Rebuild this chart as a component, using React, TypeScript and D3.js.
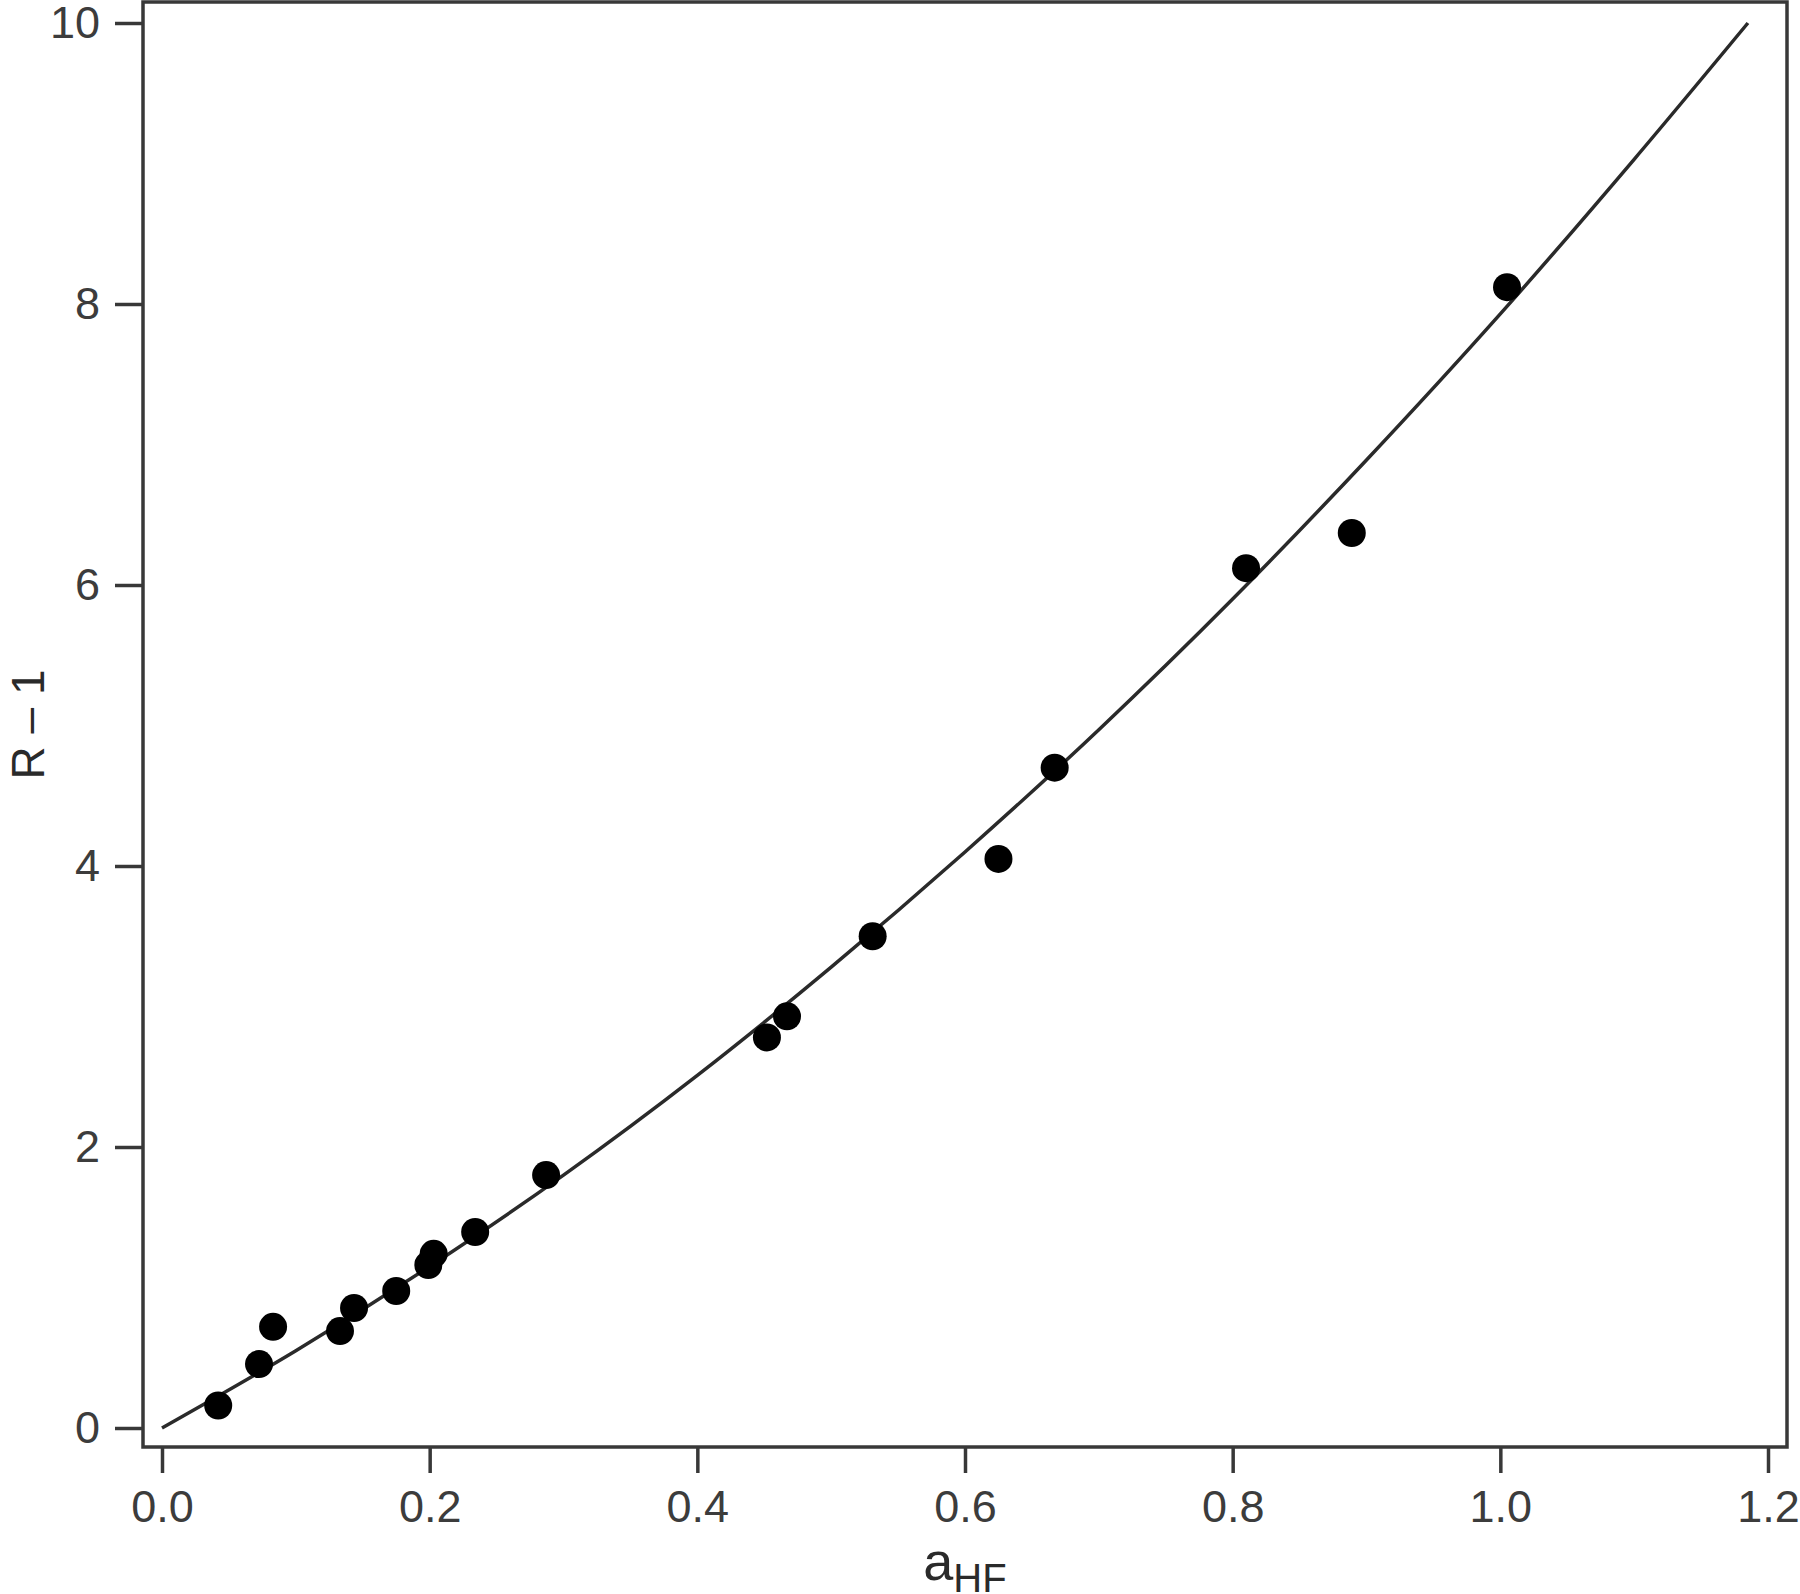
import React from 'react';
import * as d3 from 'd3';

// measured points (a_HF, R - 1)
const aHF = [0.042, 0.0725, 0.083, 0.133, 0.1435, 0.175, 0.199, 0.203, 0.234, 0.287, 0.452, 0.467, 0.531, 0.625, 0.667, 0.81, 0.889, 1.005];
const rMinus1 = [0.16, 0.455, 0.72, 0.69, 0.854, 0.975, 1.16, 1.24, 1.395, 1.8, 2.78, 2.93, 3.5, 4.05, 4.7, 6.12, 6.37, 8.12];

// fitted curve
const fitX = [0, 0.1, 0.2, 0.3, 0.4, 0.5, 0.6, 0.7, 0.8, 0.9, 1.0, 1.1, 1.185];
const fitY = [0, 0.55, 1.15, 1.8, 2.51, 3.28, 4.1, 4.97, 5.9, 6.89, 7.93, 9.03, 10.0];

const xTicks = [0, 0.2, 0.4, 0.6, 0.8, 1.0, 1.2];
const yTicks = [0, 2, 4, 6, 8, 10];

const W = 1800;
const H = 1594;
const FONT = '"Liberation Sans", Arial, sans-serif';

const App = () => {
  const svgRef = React.useRef<SVGSVGElement>(null);

  React.useEffect(() => {
    const svg = d3.select(svgRef.current);
    svg.selectAll('*').remove();

    const x = d3.scaleLinear().domain([0, 1.2]).range([162, 1768]);
    const y = d3.scaleLinear().domain([0, 10]).range([1428, 23]);

    // frame edges (slightly outside the data range, Igor style)
    const left = 143, right = 1787, top = 2, bottom = 1447;
    const ink = '#383838';

    svg.append('rect')
      .attr('x', left)
      .attr('y', top)
      .attr('width', right - left)
      .attr('height', bottom - top)
      .attr('fill', 'none')
      .attr('stroke', ink)
      .attr('stroke-width', 3.5);

    // axes
    const yAxis = svg.append('g')
      .attr('transform', `translate(${left},0)`)
      .call(d3.axisLeft(y).tickValues(yTicks).tickSize(28).tickPadding(15).tickFormat(d3.format('d')));
    const xAxis = svg.append('g')
      .attr('transform', `translate(0,${bottom})`)
      .call(d3.axisBottom(x).tickValues(xTicks).tickSize(26).tickPadding(17).tickFormat(d3.format('.1f')));

    [yAxis, xAxis].forEach(ax => {
      ax.select('.domain').remove();
      ax.selectAll('line').attr('stroke', ink).attr('stroke-width', 3.5);
      ax.selectAll('text')
        .attr('fill', '#3c3c3c')
        .style('font-family', FONT)
        .style('font-size', '45px');
    });

    // fit curve
    const pts = fitX.map((v, i) => [v, fitY[i]] as [number, number]);
    const line = d3.line<[number, number]>()
      .x(d => x(d[0]))
      .y(d => y(d[1]))
      .curve(d3.curveMonotoneX);

    svg.append('path')
      .datum(pts)
      .attr('d', line)
      .attr('fill', 'none')
      .attr('stroke', '#2a2a2a')
      .attr('stroke-width', 3.5);

    // points
    svg.selectAll('.point')
      .data(aHF.map((v, i) => [v, rMinus1[i]]))
      .enter()
      .append('circle')
      .attr('class', 'point')
      .attr('cx', d => x(d[0]))
      .attr('cy', d => y(d[1]))
      .attr('r', 14)
      .attr('fill', '#000');

    // axis titles
    svg.append('text')
      .attr('transform', `translate(44,${(top + bottom) / 2}) rotate(-90)`)
      .attr('text-anchor', 'middle')
      .attr('fill', '#2a2a2a')
      .style('font-family', FONT)
      .style('font-size', '46px')
      .text('R – 1');

    const xt = svg.append('text')
      .attr('x', (left + right) / 2)
      .attr('y', 1580)
      .attr('text-anchor', 'middle')
      .attr('fill', '#2a2a2a')
      .style('font-family', FONT);
    xt.append('tspan').style('font-size', '54px').text('a');
    xt.append('tspan').attr('dy', 12).style('font-size', '40px').text('HF');
  }, []);

  return (
    <svg
      ref={svgRef}
      width={W}
      height={H}
      viewBox={`0 0 ${W} ${H}`}
      style={{ position: 'absolute', left: 0, top: 0, background: '#fff', display: 'block' }}
    />
  );
};

export default App;
